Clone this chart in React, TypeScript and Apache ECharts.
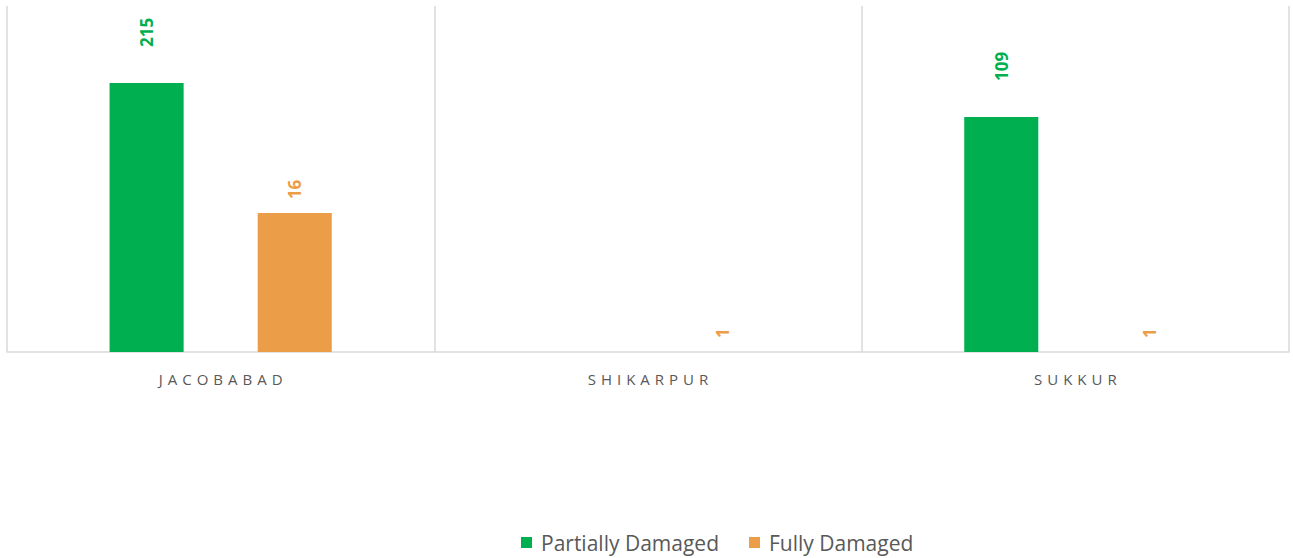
import React, { useEffect, useRef } from "react";
import * as echarts from "echarts";

const categories = ["JACOBABAD", "SHIKARPUR", "SUKKUR"];
const partiallyDamaged = [215, null, 109];
const fullyDamaged = [16, 1, 1];
const seriesNames = ["Partially Damaged", "Fully Damaged"];

const GREEN = "#00B050";
const ORANGE = "#EC9D48";

function withLabels(values: (number | null)[]) {
  return values.map((v) =>
    v == null
      ? null
      : { value: v, label: { distance: v >= 100 ? 36 : 14 } }
  );
}

export default function App() {
  const ref = useRef<HTMLDivElement>(null);
  useEffect(() => {
    if (!ref.current) return;
    const chart = echarts.init(ref.current, null, { renderer: "svg" });
    const labelBase = {
      show: true,
      position: "top",
      rotate: 90,
      align: "left",
      verticalAlign: "middle",
      fontFamily: "Open Sans",
      fontWeight: "bold",
      fontSize: 17,
    };
    chart.setOption({
      animation: false,
      grid: { left: 7, right: 4, top: 6, bottom: 206, containLabel: false },
      legend: {
        top: 527,
        left: 516,
        itemWidth: 11,
        itemHeight: 11,
        itemGap: 30,
        icon: "rect",
        textStyle: {
          fontFamily: "Open Sans",
          fontSize: 21,
          color: "#595959",
          padding: [0, 0, 0, 4],
        },
        data: seriesNames,
      },
      xAxis: {
        type: "category",
        data: categories,
        axisTick: { show: false },
        axisLine: { lineStyle: { color: "#d9d9d9", width: 1.5 } },
        splitLine: { show: true, interval: 0, lineStyle: { color: "#d9d9d9", width: 1.5 } },
        axisLabel: {
          color: "#595959",
          fontFamily: "Open Sans",
          fontSize: 15,
          margin: 19,
          formatter: (s: string) => s.split("").join("\u2004"),
        },
      },
      yAxis: {
        type: "log",
        logBase: 10,
        min: 1,
        max: 1000,
        axisLabel: { show: false },
        axisLine: { show: false },
        axisTick: { show: false },
        splitLine: { show: false },
      },
      series: [
        {
          name: seriesNames[0],
          type: "bar",
          data: withLabels(partiallyDamaged),
          itemStyle: { color: GREEN },
          barGap: "100%",
          barCategoryGap: "48%",
          label: { ...labelBase, color: GREEN },
        },
        {
          name: seriesNames[1],
          type: "bar",
          data: withLabels(fullyDamaged),
          itemStyle: { color: ORANGE },
          barGap: "100%",
          barCategoryGap: "48%",
          label: { ...labelBase, color: ORANGE },
        },
      ],
    });
    return () => chart.dispose();
  }, []);
  return <div ref={ref} style={{ width: 1293, height: 558, position: "absolute", left: 0, top: 0 }} />;
}
